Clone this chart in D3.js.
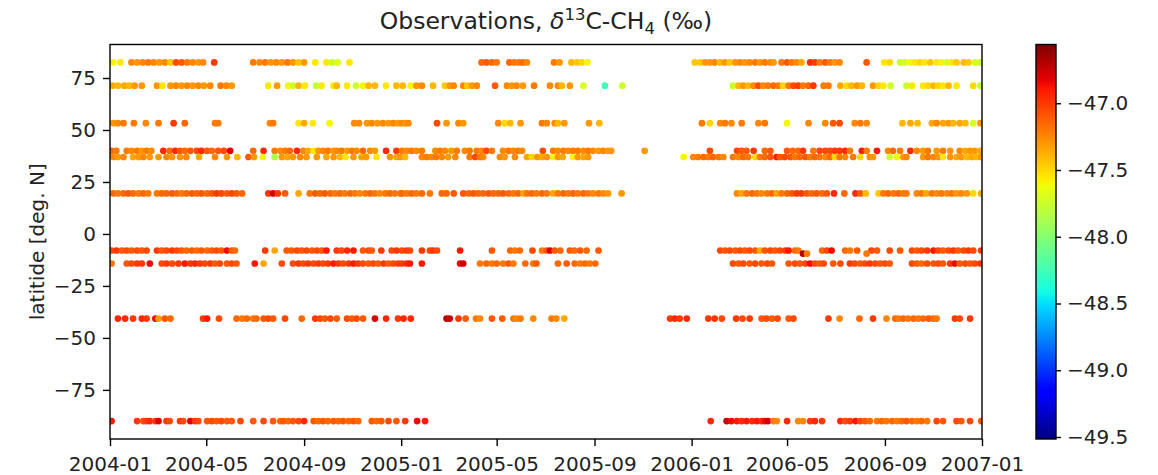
<!DOCTYPE html>
<html><head><meta charset="utf-8">
<script src="https://cdn.jsdelivr.net/npm/d3@7"></script>
<style>body{margin:0;background:#fff}svg{font-family:"DejaVu Sans",sans-serif}</style>
</head><body><svg id="c" width="1158" height="475"></svg>
<script>
// ---- data: days since 2004-01-01, delta13C values (per mil) ----
const xTickLabels = ["2004-01","2004-05","2004-09","2005-01","2005-05","2005-09","2006-01","2006-05","2006-09","2007-01"];
const yTicks = [-75,-50,-25,0,25,50,75];
const cbTicks = [-47.0,-47.5,-48.0,-48.5,-49.0,-49.5];
const colorRange = [-49.515, -46.56];
const latitudes = {alert:82.5, barrow:71.3, maceHead:53.3, niwot:40.0, tapi:37.0, maunaLoa:19.5, ascension:-7.97, other:-9.5, samoa:-14.2, capeGrim:-40.7, southPole:-89.98};

const alertDays = [4,13,27,34,41,48,55,62,69,76,83,90,97,104,111,117,131,180,188,195,202,209,216,223,230,237,244,258,272,279,286,301,
 467,473,480,486,502,508,514,519,524,558,565,580,587,593,600,
 735,742,748,754,760,767,773,779,786,792,798,804,811,817,823,830,834,844,851,857,863,869,880,886,892,899,905,911,917,951,973,980,993,999,1006,1012,1018,1024,1031,1039,1045,1052,1058,1064,1073,1079,1087,1094];
const alertVals = [-47.6,-47.55,-47.25,-47.3,-47.25,-47.2,-47.25,-47.3,-47.25,-47.45,-47.05,-47.1,-47.2,-47.25,-47.3,-47.25,-47.0,-47.2,-47.25,-47.2,-47.3,-47.25,-47.3,-47.2,-47.3,-47.45,-47.3,-47.55,-47.55,-47.75,-47.7,-47.55,
 -47.15,-47.1,-47.15,-47.2,-47.15,-47.2,-47.2,-47.15,-47.25,-47.2,-47.3,-47.4,-47.45,-47.5,-47.6,
 -47.45,-47.45,-47.3,-47.3,-47.25,-47.4,-47.3,-47.45,-47.3,-47.25,-47.3,-47.25,-47.2,-47.3,-47.2,-47.25,-47.3,-47.2,-47.1,-47.2,-47.25,-47.35,-46.95,-47.0,-47.2,-47.1,-47.2,-47.3,-47.25,-47.1,-47.55,-47.5,-47.75,-47.7,-47.6,-47.55,-47.5,-47.55,-47.45,-47.55,-47.6,-47.7,-47.55,-47.45,-47.4,-47.45,-47.7,-47.75];

const barrowDays = [3,10,18,24,31,40,59,66,76,83,90,97,104,111,118,126,139,146,153,199,210,224,230,237,245,259,266,281,285,298,309,318,325,333,347,360,
 368,378,385,392,406,421,427,432,444,449,455,461,484,499,505,511,519,533,553,563,568,578,595,622,644,
 783,790,796,802,809,815,821,827,834,840,846,853,859,865,871,878,884,897,903,918,926,932,939,945,959,966,972,981,1001,1008,1022,1028,1035,1041,1047,1054,1064,1085,1094];
const barrowVals = [-47.35,-47.4,-47.35,-47.4,-47.3,-47.3,-47.3,-47.55,-47.3,-47.25,-47.3,-47.25,-47.3,-47.25,-47.3,-47.25,-47.2,-47.25,-47.3,-47.55,-47.3,-47.6,-47.75,-47.4,-47.55,-47.8,-47.55,-47.55,-47.4,-47.55,-47.75,-47.6,-47.4,-47.4,-47.55,-47.4,
 -47.4,-47.6,-47.3,-47.25,-47.4,-47.45,-47.3,-47.25,-47.25,-47.45,-47.3,-47.25,-47.1,-47.25,-47.3,-47.25,-47.3,-47.2,-47.25,-47.25,-47.4,-47.3,-47.7,-48.25,-47.75,
 -47.75,-47.4,-47.3,-47.4,-47.25,-47.05,-47.25,-47.2,-47.15,-47.2,-47.5,-47.2,-47.05,-47.0,-47.2,-47.15,-47.0,-47.2,-47.2,-47.35,-47.5,-47.4,-47.3,-47.4,-47.3,-47.5,-47.55,-47.75,-47.75,-47.55,-47.55,-47.5,-47.4,-47.5,-47.55,-47.4,-47.55,-47.5,-47.8];

const maceHeadDays = [4,10,17,30,45,61,80,94,132,136,201,205,237,244,255,276,307,313,323,329,336,343,350,356,362,
 367,371,375,411,423,438,444,488,496,503,516,543,549,559,563,571,602,615,
 744,754,767,773,781,794,815,823,851,878,899,909,917,936,943,951,996,1006,1015,1033,1039,1047,1054,1060,1068,1075,1085,1094];
const maceHeadVals = [-47.3,-47.25,-47.2,-47.2,-47.25,-47.2,-47.0,-47.15,-47.2,-47.2,-47.25,-47.2,-47.55,-47.35,-47.55,-47.6,-47.25,-47.25,-47.3,-47.25,-47.3,-47.25,-47.3,-47.25,-47.3,
 -47.25,-47.3,-47.25,-47.05,-47.3,-47.25,-47.3,-47.25,-47.5,-47.4,-47.3,-47.2,-47.25,-47.25,-47.4,-47.3,-47.3,-47.4,
 -47.2,-47.5,-47.25,-47.2,-47.25,-47.2,-47.25,-47.2,-47.6,-47.25,-47.25,-47.1,-47.05,-47.25,-47.2,-47.25,-47.4,-47.35,-47.4,-47.35,-47.25,-47.35,-47.3,-47.4,-47.35,-47.4,-47.7,-47.3];

const niwotDays = [2,8,21,27,34,40,46,52,67,75,82,88,94,101,109,115,122,128,136,143,151,180,193,207,214,220,226,235,243,249,256,262,268,274,281,285,291,298,304,310,318,327,333,347,360,
 367,373,379,385,392,409,415,421,429,436,446,452,461,467,473,480,494,501,507,513,518,544,557,563,570,576,582,588,595,601,607,614,620,626,630,672,
 754,788,794,800,809,823,830,851,858,865,871,884,892,899,905,911,917,924,930,945,951,964,978,984,993,1006,1014,1022,1028,1039,1047,1056,1068,1075,1081,1087,1094];
const niwotVals = [-47.15,-47.2,-47.2,-47.25,-47.2,-47.3,-47.2,-47.25,-46.95,-47.15,-46.95,-47.1,-47.15,-47.1,-47.05,-46.95,-47.1,-47.15,-47.1,-47.05,-46.8,-47.15,-46.95,-47.2,-47.25,-47.2,-47.15,-46.95,-47.25,-47.35,-47.55,-47.3,-47.25,-47.2,-47.3,-47.25,-47.2,-47.3,-47.2,-47.25,-47.15,-47.25,-47.3,-46.95,-47.0,
 -47.2,-47.25,-47.2,-47.25,-47.2,-47.25,-47.2,-47.25,-47.3,-47.2,-47.25,-47.2,-47.2,-47.25,-47.05,-47.2,-47.25,-47.2,-47.25,-47.2,-47.25,-47.05,-47.2,-47.25,-47.2,-47.25,-47.2,-47.2,-47.25,-47.2,-47.25,-47.3,-47.25,-47.3,-47.3,-47.3,
 -47.05,-47.05,-47.1,-47.1,-47.0,-47.15,-47.1,-47.1,-47.15,-47.15,-47.0,-47.2,-47.05,-47.05,-47.05,-47.0,-47.0,-46.95,-47.2,-46.9,-47.2,-46.9,-47.25,-47.15,-47.2,-46.95,-47.25,-47.3,-47.2,-47.3,-47.2,-47.3,-47.25,-47.35,-47.3,-47.3,-47.35];

const tapiDays = [4,10,17,29,36,42,50,61,71,78,88,96,112,132,147,160,174,181,192,207,216,223,230,239,247,260,272,281,289,296,306,316,322,335,352,360,
 365,371,392,398,404,410,417,425,434,452,459,465,469,490,496,509,524,530,537,543,549,557,563,569,582,588,595,601,721,
 733,739,746,752,758,765,771,783,790,796,802,811,817,823,830,838,842,848,855,861,867,874,880,886,892,899,905,911,917,924,934,943,955,959,980,989,997,1001,1022,1028,1035,1041,1047,1056,1064,1070,1077,1083,1089,1095];
const tapiVals = [-47.25,-47.3,-47.25,-47.35,-47.3,-47.25,-47.3,-47.3,-47.25,-47.3,-47.3,-47.25,-47.35,-47.25,-47.3,-47.4,-47.1,-47.3,-47.6,-47.85,-47.3,-47.35,-47.3,-47.25,-47.3,-47.3,-47.35,-47.3,-47.4,-47.55,-47.3,-47.35,-47.3,-47.55,-47.3,-47.35,
 -47.3,-47.4,-47.25,-47.2,-47.25,-47.2,-47.25,-47.3,-47.25,-47.2,-47.05,-47.2,-47.25,-47.25,-47.3,-47.25,-47.35,-47.5,-47.3,-47.35,-47.3,-47.6,-47.3,-47.35,-47.6,-47.3,-47.35,-47.3,-47.6,
 -47.25,-47.2,-47.15,-47.2,-47.15,-47.2,-47.25,-47.2,-47.25,-47.15,-47.2,-47.5,-47.2,-47.15,-47.1,-46.9,-47.1,-47.05,-47.1,-47.2,-47.15,-47.1,-47.2,-47.15,-47.2,-47.25,-47.15,-47.5,-47.2,-47.25,-47.2,-47.5,-47.25,-47.3,-47.75,-47.6,-47.3,-47.25,-47.3,-47.2,-47.25,-47.3,-47.55,-47.3,-47.35,-47.3,-47.4,-47.35,-47.4,-47.3];

const maunaLoaDays = [4,10,17,23,29,36,42,48,59,65,71,78,84,90,96,103,109,115,122,128,134,140,147,153,159,166,199,205,211,220,237,251,258,264,270,277,283,289,295,302,308,314,321,327,333,339,346,352,358,365,
 367,373,379,385,392,402,417,423,432,444,451,457,463,469,476,482,488,494,501,507,513,520,524,530,536,543,549,557,563,570,576,582,588,595,601,607,614,620,626,643,
 788,794,800,807,813,819,826,832,838,844,851,857,863,869,876,882,888,895,901,910,923,937,943,950,966,972,978,985,991,997,1001,1014,1020,1026,1033,1039,1045,1052,1058,1064,1070,1077,1085,1095];
const maunaLoaVals = [-47.15,-47.2,-47.15,-47.1,-47.15,-47.2,-47.15,-47.2,-47.2,-47.15,-47.15,-47.1,-47.15,-47.2,-47.15,-47.1,-47.15,-47.1,-47.15,-47.1,-47.0,-47.05,-47.1,-47.05,-47.1,-47.15,-47.0,-46.8,-47.0,-47.1,-47.35,-47.2,-47.1,-47.15,-47.1,-47.15,-47.2,-47.15,-47.2,-47.15,-47.2,-47.25,-47.2,-47.15,-47.2,-47.25,-47.2,-47.15,-47.2,-47.2,
 -47.15,-47.2,-47.15,-47.2,-47.15,-47.2,-47.15,-47.15,-47.1,-47.1,-47.15,-47.1,-47.15,-47.15,-47.1,-47.15,-47.15,-47.1,-47.15,-47.2,-47.15,-47.35,-47.2,-47.15,-47.2,-47.15,-47.2,-47.35,-47.2,-47.15,-47.2,-47.15,-47.2,-47.15,-47.2,-47.25,-47.2,-47.25,-47.3,-47.3,
 -47.25,-47.35,-47.2,-47.15,-47.2,-47.25,-47.2,-47.15,-47.35,-47.2,-47.15,-47.1,-47.0,-47.0,-47.1,-47.15,-47.1,-47.15,-47.1,-46.95,-47.15,-46.95,-47.1,-47.4,-47.45,-47.2,-47.15,-47.2,-47.15,-47.2,-47.2,-47.25,-47.2,-47.35,-47.2,-47.25,-47.2,-47.25,-47.2,-47.3,-47.25,-47.3,-47.5,-47.35];

const ascensionDays = [2,8,15,21,27,34,40,46,59,65,71,78,84,90,96,103,109,115,122,128,134,140,147,153,157,195,207,222,228,235,241,247,254,260,266,272,285,291,298,306,318,325,329,341,354,360,
 367,373,377,392,402,406,411,440,480,503,509,515,531,543,549,553,559,566,578,584,591,599,614,
 767,773,779,786,792,798,804,811,817,823,830,836,842,849,853,861,865,895,901,907,924,930,939,957,964,980,993,1008,1014,1020,1027,1035,1041,1047,1054,1060,1066,1073,1079,1085,1095];
const ascensionVals = [-47.05,-47.0,-47.1,-47.05,-47.1,-47.05,-47.1,-47.05,-47.0,-47.1,-47.05,-47.0,-47.05,-47.1,-47.15,-47.1,-47.15,-47.1,-47.15,-47.1,-47.05,-47.1,-46.85,-47.1,-47.15,-47.0,-47.35,-47.1,-47.1,-47.05,-47.1,-47.05,-47.1,-47.05,-47.1,-46.9,-47.0,-47.05,-46.95,-46.9,-47.1,-47.05,-47.1,-47.0,-47.05,-47.0,
 -47.05,-47.0,-47.05,-47.0,-47.05,-47.0,-47.05,-46.9,-47.1,-47.15,-47.2,-47.15,-47.05,-47.2,-47.1,-46.8,-47.1,-47.15,-47.1,-47.15,-47.1,-47.15,-47.1,
 -47.05,-47.1,-47.05,-47.1,-47.05,-47.1,-47.05,-47.1,-47.35,-47.1,-47.05,-47.1,-47.05,-47.0,-46.9,-47.15,-47.2,-47.15,-47.05,-46.85,-47.15,-47.2,-47.1,-47.05,-47.1,-47.05,-47.1,-47.05,-47.1,-47.05,-47.0,-46.9,-47.05,-47.1,-47.05,-47.0,-47.1,-47.05,-47.0,-47.05,-47.0];

const otherDays = [871,876,951];
const otherVals = [-46.7,-47.2,-47.2];

const samoaDays = [2,21,27,34,40,50,65,71,78,86,94,101,107,113,119,126,132,138,147,153,159,182,193,216,230,237,243,249,256,262,268,274,281,287,293,300,306,312,318,325,331,337,344,350,356,362,
 367,373,377,392,440,444,465,473,480,486,494,501,507,522,532,536,563,574,584,591,597,603,610,
 783,790,796,804,811,819,826,832,853,861,867,874,880,886,892,897,909,918,930,936,943,949,955,962,968,974,980,1008,1014,1020,1027,1035,1041,1047,1056,1062,1068,1075,1081,1087,1094];
const samoaVals = [-47.2,-47.1,-47.05,-47.0,-47.0,-46.85,-47.05,-47.0,-47.05,-47.0,-46.9,-47.0,-46.95,-47.0,-47.05,-47.0,-47.1,-47.05,-47.1,-47.05,-47.1,-46.9,-47.35,-47.05,-47.05,-47.0,-47.05,-47.0,-47.05,-47.0,-47.05,-47.0,-46.9,-47.0,-47.05,-47.0,-46.9,-47.0,-47.05,-47.1,-47.05,-47.1,-47.0,-47.1,-47.05,-47.0,
 -47.0,-46.95,-46.9,-46.9,-46.85,-46.75,-47.2,-47.15,-47.2,-47.15,-47.2,-47.1,-47.2,-47.15,-47.2,-47.1,-47.15,-47.1,-47.15,-47.2,-47.15,-47.2,-47.15,
 -47.05,-47.1,-47.05,-47.1,-47.05,-47.1,-47.05,-47.1,-47.1,-47.05,-47.1,-47.05,-46.85,-47.05,-47.1,-47.05,-47.1,-47.05,-47.0,-47.05,-47.1,-47.05,-47.0,-47.05,-47.1,-47.05,-47.1,-47.05,-47.1,-47.15,-47.05,-47.1,-47.05,-47.1,-47.0,-46.85,-47.1,-47.05,-47.1,-47.05,-47.0];

const capeGrimDays = [10,19,29,40,46,57,61,69,76,117,122,137,159,166,172,180,184,193,199,205,220,241,258,264,270,277,285,298,304,310,318,333,347,362,
 369,378,423,427,438,447,460,465,480,493,507,511,516,532,555,561,571,704,710,716,725,
 752,760,769,787,795,804,819,825,832,839,853,859,903,917,942,959,976,987,991,997,1003,1010,1016,1022,1029,1035,1039,1062,1068,1081];
const capeGrimVals = [-46.95,-46.95,-47.0,-46.95,-47.0,-46.85,-47.3,-47.1,-47.15,-47.0,-46.9,-47.05,-47.15,-47.2,-47.15,-47.2,-47.15,-47.1,-47.05,-47.1,-47.05,-47.15,-47.0,-47.05,-47.1,-47.05,-47.1,-47.05,-47.1,-47.05,-47.1,-46.8,-46.95,-47.0,
 -46.95,-46.95,-46.7,-46.75,-47.0,-47.1,-47.2,-47.25,-47.1,-47.1,-47.2,-47.25,-47.2,-47.25,-47.2,-47.25,-47.35,-47.0,-46.95,-47.0,-46.95,
 -47.0,-47.0,-47.05,-47.0,-47.05,-47.0,-47.1,-47.05,-47.1,-47.05,-47.1,-47.05,-47.0,-47.25,-47.15,-47.0,-47.25,-47.15,-47.2,-47.15,-47.2,-47.15,-47.2,-47.15,-47.1,-47.15,-47.2,-47.0,-47.05,-47.0];

const southPoleDays = [2,34,42,46,50,57,61,71,75,88,92,101,107,111,122,128,134,140,147,153,164,180,193,205,214,218,224,230,237,244,256,262,268,274,281,287,293,300,306,312,329,335,341,350,360,
 371,386,396,
 755,775,781,788,794,800,807,813,819,823,827,834,838,851,865,871,880,886,895,918,924,930,937,943,949,955,964,970,976,983,989,995,1001,1008,1014,1020,1027,1039,1047,1064,1070,1081,1095];
const southPoleVals = [-46.9,-47.0,-47.05,-47.0,-46.95,-47.0,-46.8,-47.0,-47.05,-47.0,-47.05,-46.8,-47.0,-47.05,-47.1,-47.05,-47.1,-47.05,-47.1,-47.1,-47.05,-47.1,-47.05,-47.1,-47.15,-47.1,-47.15,-47.1,-47.05,-46.95,-47.1,-47.15,-47.1,-47.15,-47.1,-47.15,-47.1,-47.15,-47.1,-47.15,-47.1,-47.15,-47.1,-47.05,-47.1,
 -47.0,-46.85,-46.9,
 -46.95,-46.75,-46.85,-46.9,-46.95,-46.9,-46.95,-46.9,-46.95,-46.85,-46.75,-47.2,-47.25,-46.95,-47.25,-47.25,-47.0,-46.95,-47.0,-46.95,-47.05,-47.0,-46.9,-47.05,-47.1,-47.15,-47.2,-47.15,-47.2,-47.15,-47.2,-47.15,-47.1,-47.15,-47.2,-47.15,-47.2,-47.05,-47.1,-47.05,-47.1,-47.05,-47.1];

const series = [
  ["alert", alertDays, alertVals], ["barrow", barrowDays, barrowVals], ["maceHead", maceHeadDays, maceHeadVals],
  ["niwot", niwotDays, niwotVals], ["tapi", tapiDays, tapiVals], ["maunaLoa", maunaLoaDays, maunaLoaVals],
  ["ascension", ascensionDays, ascensionVals], ["other", otherDays, otherVals], ["samoa", samoaDays, samoaVals],
  ["capeGrim", capeGrimDays, capeGrimVals], ["southPole", southPoleDays, southPoleVals]
];

// ---- jet colormap (matplotlib segment data) ----
function seg(pts, t){ for(let i=1;i<pts.length;i++){ if(t<=pts[i][0]){ const a=pts[i-1], b=pts[i]; return a[1]+(b[1]-a[1])*(t-a[0])/(b[0]-a[0]); } } return pts[pts.length-1][1]; }
const JR=[[0,0],[0.35,0],[0.66,1],[0.89,1],[1,0.5]], JG=[[0,0],[0.125,0],[0.375,1],[0.64,1],[0.91,0],[1,0]], JB=[[0,0.5],[0.11,1],[0.34,1],[0.65,0],[1,0]];
function jet(t){ t=Math.max(0,Math.min(1,t)); return d3.rgb(255*seg(JR,t),255*seg(JG,t),255*seg(JB,t)).toString(); }
const norm = d3.scaleLinear().domain(colorRange).range([0,1]).clamp(true);
const color = v => jet(norm(v));

// ---- layout ----
const FS = 20;        // tick / label font size
const svg = d3.select("#c");
const L=110, R=982, T=44.5, B=439;
const t0 = new Date(Date.UTC(2004,0,1));
const parseTick = d3.utcParse("%Y-%m");
const x = d3.scaleUtc().domain([parseTick("2004-01"), parseTick("2007-01")]).range([L,R]);
const y = d3.scaleLinear().domain([-98.62, 91.12]).range([B,T]);

const pts=[];
series.forEach(([k,ds,vs])=>{ const n=Math.min(ds.length,vs.length); for(let i=0;i<n;i++) pts.push({d:d3.utcDay.offset(t0,ds[i]), lat:latitudes[k], v:vs[i]}); });

svg.append("defs").append("clipPath").attr("id","clip").append("rect").attr("x",L).attr("y",T).attr("width",R-L).attr("height",B-T);
svg.append("g").attr("clip-path","url(#clip)").selectAll("circle").data(pts).join("circle")
  .attr("cx",d=>x(d.d)).attr("cy",d=>y(d.lat)).attr("r",3.35).attr("fill",d=>color(d.v));

// axes
const fmtMinus = s => String(s).replace("-","\u2212");
const xAxis = d3.axisBottom(x).tickValues(xTickLabels.map(parseTick)).tickFormat(d3.utcFormat("%Y-%m")).tickSize(7).tickPadding(11);
const gx = svg.append("g").attr("transform",`translate(0,${B})`).call(xAxis);
const yAxis = d3.axisLeft(y).tickValues(yTicks).tickFormat(d=>fmtMinus(d)).tickSize(7).tickPadding(7);
const gy = svg.append("g").attr("transform",`translate(${L},0)`).call(yAxis);
[gx,gy].forEach(g=>{ g.select(".domain").remove(); g.selectAll("text").attr("font-size",FS).attr("fill","#222").attr("font-family","DejaVu Sans"); g.selectAll("line").attr("stroke","#000").attr("stroke-width",1.4); });
svg.append("rect").attr("x",L).attr("y",T).attr("width",R-L).attr("height",B-T).attr("fill","none").attr("stroke","#000").attr("stroke-width",1.4);

// title
const title = svg.append("text").attr("x",(L+R)/2).attr("y",29).attr("text-anchor","middle").attr("font-size",23.5).attr("fill","#222");
title.append("tspan").text("Observations, ");
title.append("tspan").attr("font-style","italic").text("\u03b4");
title.append("tspan").attr("font-size",16.5).attr("dy",-9).text("13");
title.append("tspan").attr("dy",9).text("C-CH");
title.append("tspan").attr("font-size",16.5).attr("dy",5).text("4");
title.append("tspan").attr("dy",-5).text(" (\u2030)");

// y label
svg.append("text").attr("transform",`translate(44,${(T+B)/2}) rotate(-90)`).attr("text-anchor","middle").attr("font-size",FS).attr("fill","#222").text("latitide [deg. N]");

// colorbar
const cbL=1036, cbW=20;
const cy = d3.scaleLinear().domain(colorRange).range([B,T]);
const grad = svg.select("defs").append("linearGradient").attr("id","jetg").attr("x1",0).attr("y1",1).attr("x2",0).attr("y2",0);
d3.range(0,1.0001,0.01).forEach(t=>grad.append("stop").attr("offset",t).attr("stop-color",jet(t)));
svg.append("rect").attr("x",cbL).attr("y",T).attr("width",cbW).attr("height",B-T).attr("fill","url(#jetg)");
svg.append("rect").attr("x",cbL).attr("y",T).attr("width",cbW).attr("height",B-T).attr("fill","none").attr("stroke","#000").attr("stroke-width",1.4);
const cAxis = d3.axisRight(cy).tickValues(cbTicks).tickFormat(d=>fmtMinus(d3.format(".1f")(d))).tickSize(5).tickPadding(6);
const gc = svg.append("g").attr("transform",`translate(${cbL+cbW},0)`).call(cAxis);
gc.select(".domain").remove();
gc.selectAll("text").attr("font-size",FS).attr("fill","#222").attr("font-family","DejaVu Sans");
gc.selectAll("line").attr("stroke","#000").attr("stroke-width",1.4);
</script></body></html>
